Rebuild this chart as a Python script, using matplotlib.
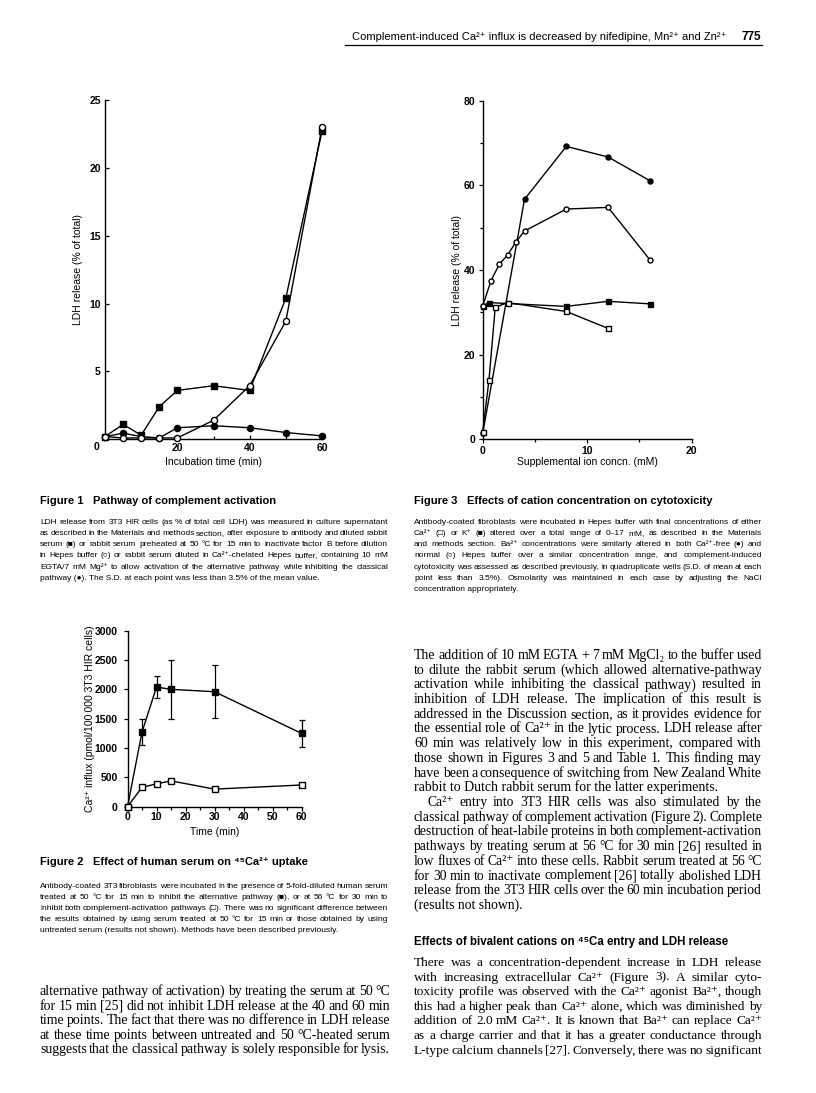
import matplotlib
matplotlib.use('Agg')
import matplotlib.pyplot as plt
from matplotlib.lines import Line2D

W, H = 816, 1093
SANS = ['Liberation Sans Narrow', 'Liberation Sans', 'DejaVu Sans']
SERIF = ['Liberation Serif', 'DejaVu Serif', 'DejaVu Sans']

# Figure 1 - LDH release (% of total) vs incubation time (min)
f1_time = [0, 5, 10, 15, 20, 30, 40, 50, 60]
f1_alt = [0.2, 1.1, 0.3, 2.4, 3.6, 3.95, 3.6, 10.4, 22.7]     # filled squares
f1_heated = [0.2, 0.1, 0.1, 0.1, 0.1, 1.4, 3.95, 8.7, 23.0]   # open circles
f1_egta = [0.2, 0.45, 0.2, 0.1, 0.85, 1.0, 0.85, 0.5, 0.25]   # filled circles

# Figure 3 - LDH release vs supplemental ion concn. (mM)
f3_ca_x = [0, 0.6, 1.2, 2.4, 8, 12]
f3_ca_y = [1.8, 14.0, 31.2, 32.3, 30.2, 26.2]                # open squares
f3_k_x = [0, 0.6, 8, 12, 16]
f3_k_y = [31.5, 32.3, 31.4, 32.6, 32.0]                      # filled squares
f3_bafree_x = [0, 4, 8, 12, 16]
f3_bafree_y = [1.4, 56.7, 69.2, 66.7, 61.1]                  # filled circles
f3_ba_x = [0, 0.8, 1.6, 2.4, 3.2, 4, 8, 12, 16]
f3_ba_y = [31.5, 37.5, 41.4, 43.6, 46.7, 49.2, 54.4, 54.8, 42.4]  # open circles

# Figure 2 - Ca2+ influx vs time (min)
f2_time = [0, 5, 10, 15, 30, 60]
f2_50 = [0, 1270, 2040, 2000, 1960, 1250]
f2_50_sd = [0, 225, 195, 500, 450, 235]
f2_56 = [0, 330, 390, 440, 300, 370]
f2_56_sd = [0, 30, 15, 20, 10, 35]


def fx(px):
    return px / W


def fy(py):
    return 1 - py / H


fig = plt.figure(figsize=(W / 100, H / 100), dpi=100)
fig.patch.set_facecolor('white')
renderer = fig.canvas.get_renderer()

tickfont = dict(family=SANS, size=7.5, weight='bold')
labfont = dict(family=SANS, size=7.5)


def style_axes(ax, direction):
    for s in ['top', 'right']:
        ax.spines[s].set_visible(False)
    for s in ['left', 'bottom']:
        ax.spines[s].set_linewidth(1.0)
    ax.tick_params(which='both', direction=direction, width=0.9)
    ax.tick_params(which='major', length=3)
    ax.tick_params(which='minor', length=2.5)
    for lab in ax.get_xticklabels() + ax.get_yticklabels():
        lab.set_fontproperties(matplotlib.font_manager.FontProperties(**tickfont))
    ax.patch.set_alpha(0)


# ---------------- Figure 1
ax1 = fig.add_axes([fx(105), fy(439.3), (322 - 105) / W, (439.3 - 100) / H])
lw = 1.0
ax1.plot(f1_time, f1_egta, '-o', color='k', lw=lw, ms=4.4, mfc='k', zorder=3)
ax1.plot(f1_time, f1_alt, '-s', color='k', lw=lw, ms=5.0, mfc='k', zorder=4)
ax1.plot(f1_time, f1_heated, '-o', color='k', lw=lw, ms=4.4, mfc='white', zorder=5)
ax1.set_xlim(0, 60)
ax1.set_ylim(0, 25)
ax1.set_xticks([0, 20, 40, 60])
ax1.set_xticks([10, 30, 50], minor=True)
ax1.set_xticklabels(['', '20', '40', '60'])
ax1.set_yticks([0, 5, 10, 15, 20, 25])
ax1.set_yticklabels(['', '5', '10', '15', '20', '25'])
ax1.tick_params(axis='x', pad=3)
ax1.tick_params(axis='y', pad=3)
style_axes(ax1, 'in')
for ln in ax1.lines:
    ln.set_clip_on(False)
fig.text(fx(97), fy(447), '0', ha='center', va='center', **tickfont)
ax1.set_xlabel('Incubation time (min)', **labfont)
ax1.xaxis.set_label_coords(0.5, (439.3 - 462) / 339.3)
ax1.xaxis.label.set_va('center')
ax1.set_ylabel('LDH release (% of total)', **labfont)
ax1.yaxis.set_label_coords((78 - 105) / 217, 0.5)
ax1.yaxis.label.set_va('center')

# ---------------- Figure 3
ax3 = fig.add_axes([fx(482.7), fy(439.3), (691.7 - 482.7) / W, (439.3 - 100.7) / H])
ax3.plot(f3_k_x, f3_k_y, '-s', color='k', lw=lw, ms=3.6, mfc='k', zorder=3)
ax3.plot(f3_ca_x, f3_ca_y, '-s', color='k', lw=lw, ms=3.6, mfc='white', zorder=4)
ax3.plot(f3_bafree_x, f3_bafree_y, '-o', color='k', lw=lw, ms=3.6, mfc='k', zorder=3)
ax3.plot(f3_ba_x, f3_ba_y, '-o', color='k', lw=lw, ms=3.6, mfc='white', zorder=5)
ax3.set_xlim(0, 20)
ax3.set_ylim(0, 80)
ax3.set_xticks([0, 10, 20])
ax3.set_xticks([5, 15], minor=True)
ax3.set_yticks([0, 20, 40, 60, 80])
ax3.set_yticks([10, 30, 50, 70], minor=True)
ax3.tick_params(axis='x', pad=1.5)
ax3.tick_params(axis='y', pad=2.5)
style_axes(ax3, 'out')
for ln in ax3.lines:
    ln.set_clip_on(False)
ax3.set_xlabel('Supplemental ion concn. (mM)', **labfont)
ax3.xaxis.set_label_coords(0.5, (439.3 - 462.3) / 338.6)
ax3.xaxis.label.set_va('center')
ax3.set_ylabel('LDH release (% of total)', **labfont)
ax3.yaxis.set_label_coords((456.7 - 482.7) / 209, 0.5)
ax3.yaxis.label.set_va('center')

# ---------------- Figure 2
ax2 = fig.add_axes([fx(127.5), fy(806.7), (301.5 - 127.5) / W, (806.7 - 630.7) / H])
ax2.errorbar(f2_time, f2_50, yerr=f2_50_sd, fmt='-s', color='k', lw=lw, ms=4.6,
             mfc='k', capsize=2.5, elinewidth=0.9, capthick=0.9, zorder=3)
ax2.errorbar(f2_time, f2_56, yerr=f2_56_sd, fmt='-s', color='k', lw=lw, ms=4.4,
             mfc='white', capsize=2.5, elinewidth=0.9, capthick=0.9, zorder=4)
ax2.set_xlim(0, 60)
ax2.set_ylim(0, 3000)
ax2.set_xticks([0, 10, 20, 30, 40, 50, 60])
ax2.set_xticks([5, 15, 25, 35, 45, 55], minor=True)
ax2.set_yticks([0, 500, 1000, 1500, 2000, 2500, 3000])
ax2.tick_params(axis='x', pad=1)
ax2.tick_params(axis='y', pad=4)
style_axes(ax2, 'out')
for art in ax2.get_children():
    try:
        art.set_clip_on(False)
    except Exception:
        pass
ax2.set_xlabel('Time (min)', **labfont)
ax2.xaxis.set_label_coords(0.5, (806.7 - 832) / 176)
ax2.xaxis.label.set_va('center')
ax2.set_ylabel('Ca\u00b2\u207a influx (pmol/100\u2009000 3T3 HIR cells)', **labfont)
ax2.yaxis.set_label_coords((90 - 127.5) / 174, 0.5)
ax2.yaxis.label.set_va('center')


def text_width(s, **kw):
    t = fig.text(0, 0, s, **kw)
    w = t.get_window_extent(renderer).width
    t.remove()
    return w


# ---------------- page header
head = ('Complement-induced Ca\u00b2\u207a influx is decreased by nifedipine, '
        'Mn\u00b2\u207a and Zn\u00b2\u207a')
hsize = 8.3 * min(1.0, 371 / text_width(head, family=SANS, size=8.3))
fig.text(fx(352), fy(37), head, family=SANS, size=hsize, va='center')
fig.text(fx(761), fy(37), '775', family=SANS, size=8.5, weight='bold', ha='right', va='center')
fig.add_artist(Line2D([fx(345), fx(762)], [fy(44.5), fy(44.5)], lw=0.9, color='k'))


def block(lines, x0, x1, y0, dy, size, family, last_free=True, indent=0, weight='normal',
          min_gap=2.2):
    # shrink the font of the whole block if a line would not fit the column
    ratio = 1.0
    for i, line in enumerate(lines):
        words = line.split(' ')
        wsum = sum(text_width(w, family=family, size=size, weight=weight) for w in words)
        room = x1 - x0 - (indent if i == 0 else 0) - min_gap * (len(words) - 1)
        ratio = min(ratio, room / wsum)
    size = size * ratio
    for i, line in enumerate(lines):
        yb = fy(y0 + i * dy)
        left = x0 + (indent if i == 0 else 0)
        if last_free and i == len(lines) - 1:
            fig.text(fx(left), yb, line, family=family, size=size, weight=weight, va='baseline')
            continue
        words = line.split(' ')
        objs = [fig.text(fx(left), yb, w, family=family, size=size, weight=weight,
                         va='baseline') for w in words]
        widths = [o.get_window_extent(renderer).width for o in objs]
        gap = (x1 - left - sum(widths)) / max(len(objs) - 1, 1)
        x = left
        for o, w in zip(objs, widths):
            o.set_x(fx(x))
            x += w + gap


def title(fig_no, text, x0, y):
    fig.text(fx(x0), fy(y), 'Figure %d' % fig_no, family=SANS, size=8, weight='bold', va='baseline')
    fig.text(fx(x0 + 53), fy(y), text, family=SANS, size=8, weight='bold', va='baseline')


title(1, 'Pathway of complement activation', 40, 503.5)
block(['LDH release from 3T3 HIR cells (as % of total cell LDH) was measured in culture supernatant',
       'as described in the Materials and methods section, after exposure to antibody and diluted rabbit',
       'serum (\u25a0) or rabbit serum preheated at 50 \u00b0C for 15 min to inactivate factor B before dilution',
       'in Hepes buffer (\u25cb) or rabbit serum diluted in Ca\u00b2\u207a-chelated Hepes buffer, containing 10 mM',
       'EGTA/7 mM Mg\u00b2\u207a to allow activation of the alternative pathway while inhibiting the classical',
       'pathway (\u25cf). The S.D. at each point was less than 3.5% of the mean value.'],
      40, 388, 523.5, 11.3, 6.6, SANS, min_gap=1.6)

title(3, 'Effects of cation concentration on cytotoxicity', 414, 503.5)
block(['Antibody-coated fibroblasts were incubated in Hepes buffer with final concentrations of either',
       'Ca\u00b2\u207a (\u25a1) or K\u207a (\u25a0) altered over a total range of 0\u201317 mM, as described in the Materials',
       'and methods section. Ba\u00b2\u207a concentrations were similarly altered in both Ca\u00b2\u207a-free (\u25cf) and',
       'normal (\u25cb) Hepes buffer over a similar concentration range, and complement-induced',
       'cytotoxicity was assessed as described previously, in quadruplicate wells (S.D. of mean at each',
       'point less than 3.5%). Osmolarity was maintained in each case by adjusting the NaCl',
       'concentration appropriately.'],
      414, 762, 523.5, 11.3, 6.6, SANS, min_gap=1.6)

title(2, 'Effect of human serum on \u2074\u2075Ca\u00b2\u207a uptake', 40, 865)
block(['Antibody-coated 3T3 fibroblasts were incubated in the presence of 5-fold-diluted human serum',
       'treated at 50 \u00b0C for 15 min to inhibit the alternative pathway (\u25a0), or at 56 \u00b0C for 30 min to',
       'inhibit both complement-activation pathways (\u25a1). There was no significant difference between',
       'the results obtained by using serum treated at 50 \u00b0C for 15 min or those obtained by using',
       'untreated serum (results not shown). Methods have been described previously.'],
      40, 388, 888.5, 10.8, 6.6, SANS, min_gap=1.6)

block(['alternative pathway of activation) by treating the serum at 50 \u00b0C',
       'for 15 min [25] did not inhibit LDH release at the 40 and 60 min',
       'time points. The fact that there was no difference in LDH release',
       'at these time points between untreated and 50 \u00b0C-heated serum',
       'suggests that the classical pathway is solely responsible for lysis.'],
      40, 390, 995, 14.6, 10, SERIF, last_free=False)

block(['The addition of 10 mM EGTA + 7 mM MgCl\u2082 to the buffer used',
       'to dilute the rabbit serum (which allowed alternative-pathway',
       'activation while inhibiting the classical pathway) resulted in',
       'inhibition of LDH release. The implication of this result is',
       'addressed in the Discussion section, as it provides evidence for',
       'the essential role of Ca\u00b2\u207a in the lytic process. LDH release after',
       '60 min was relatively low in this experiment, compared with',
       'those shown in Figures 3 and 5 and Table 1. This finding may',
       'have been a consequence of switching from New Zealand White',
       'rabbit to Dutch rabbit serum for the latter experiments.'],
      414, 762, 659, 14.7, 10, SERIF)
block(['Ca\u00b2\u207a entry into 3T3 HIR cells was also stimulated by the',
       'classical pathway of complement activation (Figure 2). Complete',
       'destruction of heat-labile proteins in both complement-activation',
       'pathways by treating serum at 56 \u00b0C for 30 min [26] resulted in',
       'low fluxes of Ca\u00b2\u207a into these cells. Rabbit serum treated at 56 \u00b0C',
       'for 30 min to inactivate complement [26] totally abolished LDH',
       'release from the 3T3 HIR cells over the 60 min incubation period',
       '(results not shown).'],
      414, 762, 659 + 10 * 14.7, 14.7, 10, SERIF, indent=13)
fig.text(fx(414), fy(945), 'Effects of bivalent cations on \u2074\u2075Ca entry and LDH release',
         family=SANS, size=8.3, weight='bold', va='baseline')
block(['There was a concentration-dependent increase in LDH release',
       'with increasing extracellular Ca\u00b2\u207a (Figure 3). A similar cyto-',
       'toxicity profile was observed with the Ca\u00b2\u207a agonist Ba\u00b2\u207a, though',
       'this had a higher peak than Ca\u00b2\u207a alone, which was diminished by',
       'addition of 2.0 mM Ca\u00b2\u207a. It is known that Ba\u00b2\u207a can replace Ca\u00b2\u207a',
       'as a charge carrier and that it has a greater conductance through',
       'L-type calcium channels [27]. Conversely, there was no significant'],
      414, 762, 966, 14.6, 10, SERIF, last_free=False)

fig.savefig('out.png', dpi=100, facecolor='white')
